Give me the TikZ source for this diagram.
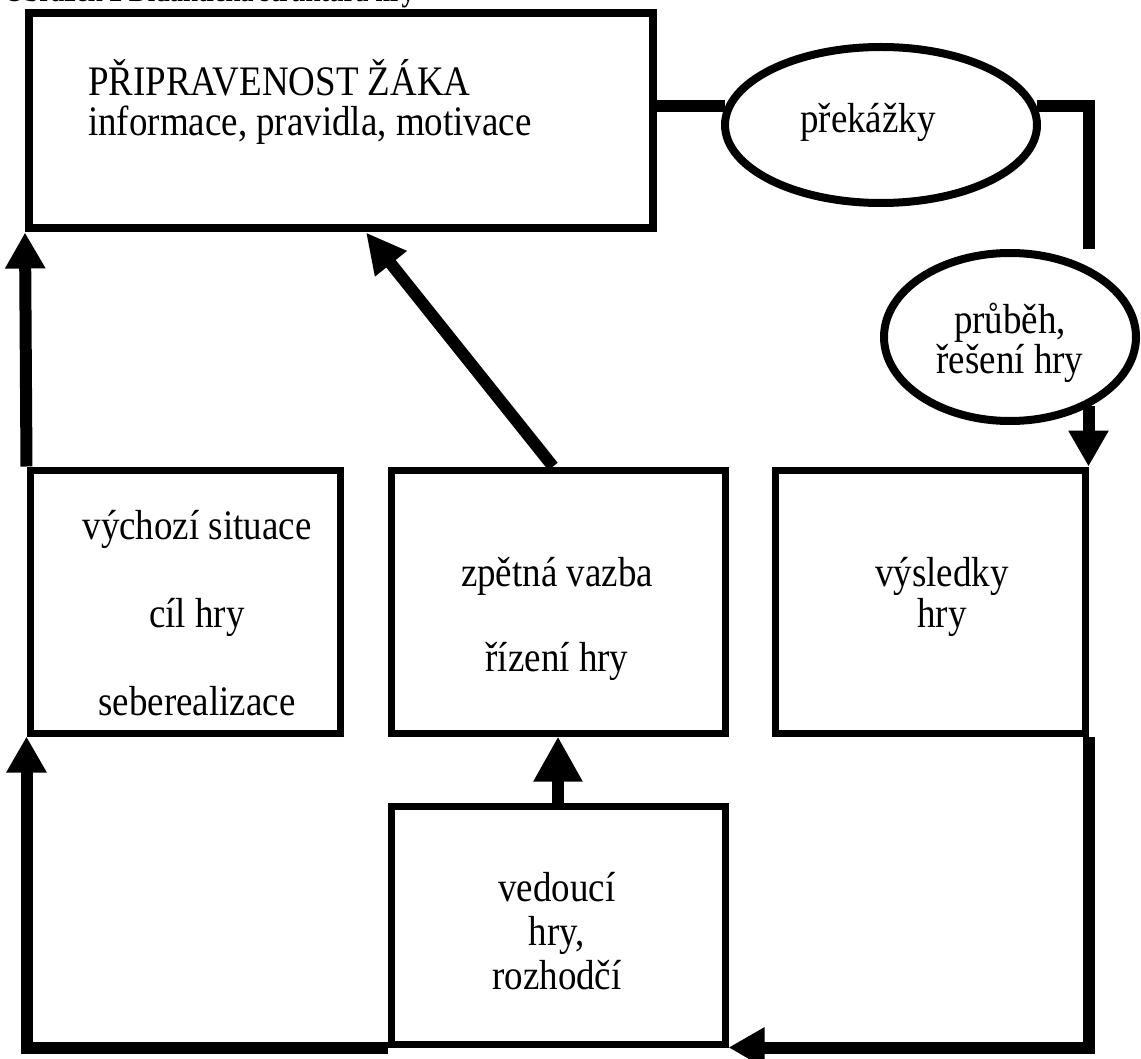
\documentclass[tikz,border=0pt]{standalone}
\usepackage{fontspec}
\setmainfont[FakeStretch=0.88]{Liberation Serif}
\usetikzlibrary{arrows.meta,shapes.geometric,calc}
\tikzset{
  box/.style={draw,rectangle,line width=7pt,inner sep=0pt},
  oval/.style={draw,ellipse,line width=8pt,inner sep=0pt},
  txt/.style={inner sep=0pt,font=\fontsize{42}{40}\selectfont},
  conn/.style={line width=12pt},
  arr/.style={conn,->},
  >={Triangle[length=36pt,width=38pt]}
}
\begin{document}
\begin{tikzpicture}[x=1pt,y=-1pt]
\useasboundingbox (0,0) rectangle (1141,1059);
\clip (0,0) rectangle (1141,1059);
\node [anchor=base west,inner sep=0pt,font=\fontsize{30}{30}\selectfont\bfseries] (title) at (4,2) {Obrázek 2 Didaktická struktura hry};
\node [box,line width=8pt,minimum width=624pt,minimum height=215pt] (box1) at (341,121) {};
\node [box,minimum width=310pt,minimum height=263pt] (boxA) at (185,601.5) {};
\node [box,minimum width=334pt,minimum height=263pt] (boxB) at (558,601.5) {};
\node [box,minimum width=310pt,minimum height=263pt] (boxC) at (930,601.5) {};
\node [box,minimum width=334pt,minimum height=238pt] (boxD) at (558,925) {};
\node [oval,minimum width=312pt,minimum height=156pt] (ell1) at (881,125) {};
\node [oval,minimum width=252pt,minimum height=168pt] (ell2) at (1010,337) {};
% connectors
\draw [conn] (box1.east |- ell1.173) -- (ell1.173);
\draw [conn] (ell1.7) -| (ell2.north -| boxC.east);
\draw [arr] (boxC.north east |- ell2.-41) -- (boxC.north east);
\draw [arr] (boxA.north west) -- (box1.south west);
\draw [arr,>={Triangle[length=40pt,width=38pt]}] ($(boxB.north)+(-5,0)$) -- ($(box1.south)+(25,0)$);
\draw [arr,>={Triangle[length=45pt,width=46pt]}] (boxD.north) -- (boxB.south);
\draw [arr] (boxD.south west) -| (boxA.south west);
\draw [arr] (boxC.south east) |- (boxD.south east);
% texts
\node [txt,anchor=west,align=left] (t1) at (88,102) {PŘIPRAVENOST ŽÁKA\\informace, pravidla, motivace};
\node [txt] (tell1) at (868,122) {překážky};
\node [txt,align=center] (tell2) at (1010,343) {průběh,\\řešení hry};
\node [txt,align=center] (tA) at (197,613) {výchozí situace\\[48pt]cíl hry\\[48pt]seberealizace};
\node [txt,align=center] (tB) at (557,619) {zpětná vazba\\[45pt]řízení hry};
\node [txt,align=center] (tC) at (942,597) {výsledky\\[1pt]hry};
\node [txt,align=center] (tD) at (557,931) {vedoucí\\[4pt]hry,\\[4pt]rozhodčí};
\end{tikzpicture}
\end{document}
